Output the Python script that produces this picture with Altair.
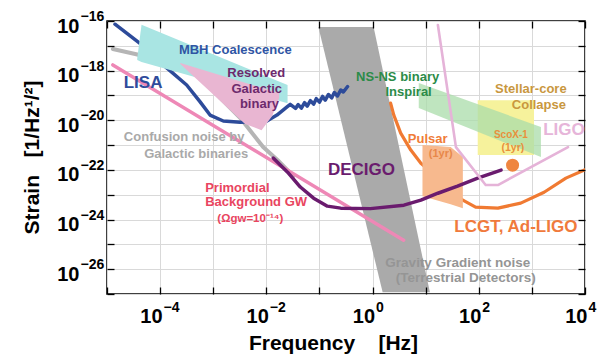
import altair as alt
import pandas as pd

# ---------------- data (log10 of frequency [Hz] and strain) ----------------
lisa_logf = [-4.85, -4.38, -3.87, -3.50, -3.25, -3.06, -2.81, -2.49, -2.18, -1.99, -1.80, -1.61,
             -1.55, -1.45, -1.40, -1.34, -1.28, -1.23, -1.17, -1.11, -1.06, -1.00, -0.94, -0.89,
             -0.83, -0.77, -0.72, -0.66, -0.60, -0.55, -0.47]
lisa_logh = [-16.13, -16.90, -17.90, -18.58, -19.25, -19.79, -20.03, -20.08, -20.06, -20.03, -19.79, -19.46,
             -19.36, -19.52, -19.37, -19.51, -19.29, -19.43, -19.21, -19.35, -19.13, -19.27, -19.04, -19.19,
             -18.96, -19.10, -18.88, -19.02, -18.78, -18.86, -18.64]

conf_logf = [-4.89, -4.47, -4.00, -3.53, -3.19, -2.87, -2.49, -2.25, -2.06, -1.79, -1.49]
conf_logh = [-17.13, -17.33, -17.57, -17.90, -18.30, -19.10, -19.91, -20.56, -21.08, -21.60, -22.25]

prim_logf = [-4.89, 0.585]
prim_logh = [-17.77, -24.83]

decigo_logf = [-1.87, -1.60, -1.36, -1.11, -0.85, -0.60, -0.04, 0.59, 0.91, 1.23, 1.60, 1.98, 2.42]
decigo_logh = [-21.52, -22.09, -22.69, -23.14, -23.46, -23.54, -23.56, -23.42, -23.22, -22.94, -22.65, -22.33, -22.01]

lcgt_logf = [0.34, 0.40, 0.53, 0.72, 0.91, 1.28, 1.70, 1.94, 2.36, 2.79, 3.23, 3.64, 4.02]
lcgt_logh = [-19.31, -19.79, -20.52, -21.20, -21.73, -22.41, -23.22, -23.50, -23.54, -23.34, -22.90, -22.33, -21.97]

ligo_logf = [1.23, 1.57, 2.13, 2.36, 3.68]
ligo_logh = [-16.16, -21.08, -22.61, -22.61, -21.08]

grav_logh = [-16.24, -26.93]
grav_left = [-1.02, 0.19]
grav_right = [0.02, 1.08]

mbh_logf = [-4.43, -4.35, -1.60]
mbh_top = [-17.49, -16.15, -18.58]
mbh_bot = [-17.57, -17.65, -19.31]

resolved_logf = [-3.62, -2.40, -2.09, -1.89, -1.76]
resolved_top = [-17.69, -18.49, -18.68, -18.82, -18.90]
resolved_bot = [-17.73, -20.15, -20.40, -19.83, -19.10]

nsns_logf = [0.87, 3.17]
nsns_top = [-18.50, -20.27]
nsns_bot = [-19.51, -21.48]

stellar_logf = [1.98, 3.04]
stellar_logh = [-19.19, -21.40]

pulsar_logf = [0.94, 1.47, 1.70]
pulsar_top = [-21.00, -21.08, -21.48]
pulsar_bot = [-23.06, -23.38, -23.54]

scox_logf = [2.636]
scox_logh = [-21.81]

lab_text = ["MBH Coalescence", "Resolved", "Galactic", "binary", "LISA", "Confusion noise by",
            "Galactic binaries", "(Ωgw=10⁻¹⁴)", "DECIGO", "NS-NS binary", "Inspiral", "Stellar-core",
            "Collapse", "LIGO", "Pulsar", "(1yr)", "ScoX-1", "(1yr)", "LCGT, Ad-LIGO",
            "Gravity Gradient noise", "(Terrestrial Detectors)"]
lab_logf = [-2.585, -2.19, -2.18, -2.13, -4.321, -3.547, -3.321, -2.302, -0.208, 0.472, 0.679, 2.981,
            3.132, 3.604, 1.038, 1.283, 2.604, 2.642, 2.698, 1.604, 1.755]
lab_logh = [-17.17, -18.10, -18.72, -19.33, -18.50, -20.68, -21.35, -23.98, -22.01, -18.26, -18.86, -18.74,
            -19.39, -20.40, -20.76, -21.36, -20.60, -21.12, -24.31, -25.76, -26.36]
lab_color = ["#2f55a4", "#6d2a6d", "#6d2a6d", "#6d2a6d", "#2f4c9c", "#a9a9a9", "#a9a9a9", "#e94560",
             "#6a1c6e", "#2b8b48", "#2b8b48", "#c9973e", "#c9973e", "#e6b5d9", "#f07c38", "#e8884a",
             "#e8903c", "#e8903c", "#f07a3c", "#959595", "#959595"]
lab_size = [13, 13, 13, 13, 17, 13, 13, 11.5, 17, 13, 13, 13, 13, 17, 13, 11, 10, 10.5, 17, 13.5, 13.5]

left_text = ["Primordial", "Background GW"]
left_logf = [-3.151, -3.151]
left_logh = [-22.73, -23.30]

x_decades = list(range(-5, 5))
y_decades = list(range(-27, -15))
x_labeled = [-4, -2, 0, 2, 4]
y_labeled = [-16, -18, -20, -22, -24, -26]

# ---------------- helpers ----------------
FONT = "Liberation Sans"
NB = "\u00a0"


def p10(vals):
    return [10.0 ** v for v in vals]


def base_expr(exps):
    e = "''"
    for n in exps:
        e = "round(log(datum.value)/LN10) == %d ? '10' : %s" % (n, e)
    return e


def exp_expr(exps):
    e = "''"
    for n in exps:
        e = "round(log(datum.value)/LN10) == %d ? '%s' : %s" % (n, str(n).replace("-", "\u2212"), e)
    return e


XS = alt.Scale(type="log", domain=[1e-5, 1e4], nice=False)
YS = alt.Scale(type="log", domain=[1e-27, 1e-16], nice=False)


def xq(field):
    return alt.X(field, type="quantitative", scale=XS, axis=None)


def yq(field):
    return alt.Y(field, type="quantitative", scale=YS, axis=None)


def line(logf, logh, color, width):
    df = pd.DataFrame({"f": p10(logf), "h": p10(logh), "i": list(range(len(logf)))})
    return alt.Chart(df).mark_line(color=color, strokeWidth=width, strokeCap="round",
                                   strokeJoin="round", clip=True).encode(
        x=xq("f"), y=yq("h"), order=alt.Order("i:Q"))


def varea(logf, top, bot, color, opacity=1.0):
    df = pd.DataFrame({"f": p10(logf), "t": p10(top), "b": p10(bot)})
    return alt.Chart(df).mark_area(color=color, opacity=opacity, clip=True).encode(
        x=xq("f"), y=yq("t"), y2="b")


corners = pd.DataFrame({"f": [1e-5, 1e4], "h": [1e-27, 1e-16]})

# grid + "10" part of tick labels + titles
axis_main = alt.Chart(corners).mark_point(opacity=0).encode(
    x=alt.X("f:Q", scale=XS, axis=alt.Axis(
        orient="bottom", values=p10(x_decades), labelExpr=base_expr(x_labeled),
        grid=True, gridColor="#d9d9d9", gridWidth=1, ticks=False, domain=False,
        labelPadding=12, labelFont=FONT, labelFontSize=20, labelFontWeight="bold",
        labelColor="black", labelFlush=False, labelOverlap=False,
        labelAlign="right", labelOffset=2,
        title="Frequency" + NB * 4 + "[Hz]", titleFont=FONT, titleFontSize=21, titleFontWeight="bold",
        titleColor="black", titleX=226, titleY=55, titleBaseline="alphabetic", titleAlign="center")),
    y=alt.Y("h:Q", scale=YS, axis=alt.Axis(
        orient="left", values=p10(y_decades), labelExpr=base_expr(y_labeled),
        grid=True, gridColor="#d9d9d9", gridWidth=1, ticks=False, domain=False,
        labelPadding=28, labelFont=FONT, labelFontSize=20, labelFontWeight="bold",
        labelColor="black", labelFlush=False, labelOverlap=False,
        labelAlign="right", labelBaseline="middle", labelOffset=5,
        title="Strain" + NB * 3 + "[1/Hz¹/²]", titleFont=FONT, titleFontSize=21, titleFontWeight="bold",
        titleColor="black", titleX=-75, titleY=136, titleBaseline="middle", titleAlign="center")),
)


def tick_axis(orient, with_exp=False):
    horizontal = orient in ("bottom", "top")
    vals = p10(x_decades) if horizontal else p10(y_decades)
    kw = dict(orient=orient, values=vals, grid=False, domain=False,
              ticks=True, tickSize=7, tickWidth=1.3, tickColor="black", offset=-7,
              title="", zindex=1)
    if with_exp:
        kw.update(labels=True, labelExpr=exp_expr(x_labeled if horizontal else y_labeled),
                  labelFont=FONT, labelFontSize=14, labelFontWeight="bold", labelColor="black",
                  labelFlush=False, labelOverlap=False, labelAlign="left")
        if horizontal:
            kw.update(labelPadding=6, labelOffset=3, labelBaseline="top")
        else:
            kw.update(labelPadding=27, labelOffset=-4.5, labelBaseline="middle")
    else:
        kw.update(labels=False)
    return alt.Axis(**kw)


axis_ticks1 = alt.Chart(corners).mark_point(opacity=0).encode(
    x=alt.X("f:Q", scale=XS, axis=tick_axis("bottom", True)),
    y=alt.Y("h:Q", scale=YS, axis=tick_axis("left", True)))
axis_ticks2 = alt.Chart(corners).mark_point(opacity=0).encode(
    x=alt.X("f:Q", scale=XS, axis=tick_axis("top")),
    y=alt.Y("h:Q", scale=YS, axis=tick_axis("right")))

grav_df = pd.DataFrame({"h": p10(grav_logh), "f1": p10(grav_left), "f2": p10(grav_right)})
grav = alt.Chart(grav_df).mark_area(orient="horizontal", color="#aaaaaa", clip=True).encode(
    y=yq("h"), x=xq("f1"), x2="f2")

stellar_df = pd.DataFrame({"f1": [10 ** stellar_logf[0]], "f2": [10 ** stellar_logf[1]],
                           "h1": [10 ** stellar_logh[0]], "h2": [10 ** stellar_logh[1]]})
stellar = alt.Chart(stellar_df).mark_rect(color="#f6f29c").encode(
    x=xq("f1"), x2="f2", y=yq("h1"), y2="h2")

scox = alt.Chart(pd.DataFrame({"f": p10(scox_logf), "h": p10(scox_logh)})).mark_circle(
    size=170, color="#ef8640", opacity=1).encode(x=xq("f"), y=yq("h"))

lab_df = pd.DataFrame({"t": lab_text, "f": p10(lab_logf), "h": p10(lab_logh),
                       "c": lab_color, "s": lab_size})
labels = alt.Chart(lab_df).mark_text(font=FONT, fontWeight="bold", align="center",
                                     baseline="middle").encode(
    x=xq("f"), y=yq("h"), text="t:N", color=alt.Color("c:N", scale=None),
    size=alt.Size("s:Q", scale=None))

left_df = pd.DataFrame({"t": left_text, "f": p10(left_logf), "h": p10(left_logh)})
left_labels = alt.Chart(left_df).mark_text(font=FONT, fontWeight="bold", align="left",
                                           baseline="middle", fontSize=13, color="#e94560").encode(
    x=xq("f"), y=yq("h"), text="t:N")

chart = alt.layer(
    axis_main,
    grav,
    line(lcgt_logf, lcgt_logh, "#f07a32", 3.2),
    line(conf_logf, conf_logh, "#b5b5b5", 4),
    line(lisa_logf, lisa_logh, "#2d4b9a", 3.5),
    varea(mbh_logf, mbh_top, mbh_bot, "#a9e5e3"),
    varea(resolved_logf, resolved_top, resolved_bot, "#e9b6d2"),
    stellar,
    varea(nsns_logf, nsns_top, nsns_bot, "#a9dca9", 0.75),
    varea(pulsar_logf, pulsar_top, pulsar_bot, "#f7b98e"),
    line(prim_logf, prim_logh, "#ee88b6", 3.5),
    line(decigo_logf, decigo_logh, "#6a1b6e", 3.5),
    line(ligo_logf, ligo_logh, "#e5b3d8", 2.6),
    scox,
    labels,
    left_labels,
    axis_ticks1,
    axis_ticks2,
).resolve_axis(x="independent", y="independent").properties(
    width=478, height=273,
    autosize=alt.AutoSizeParams(type="none"),
    padding={"left": 99, "top": 13, "right": 16, "bottom": 62},
).configure_view(stroke="black", strokeWidth=1.5)

chart.save("out.html", embed_options={"renderer": "svg", "actions": False})
